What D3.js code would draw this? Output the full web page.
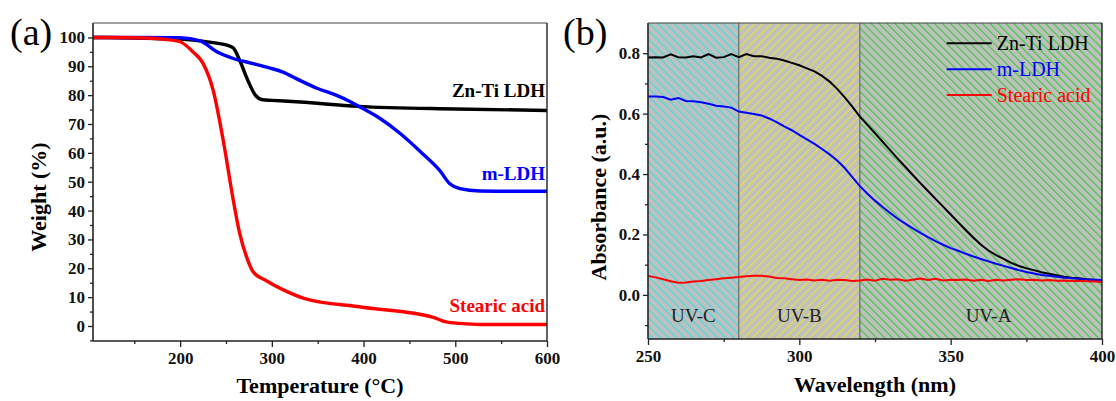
<!DOCTYPE html>
<html>
<head>
<meta charset="utf-8">
<script src="https://cdn.jsdelivr.net/npm/d3@7"></script>
<style>
  body { margin: 0; background: #fff; }
  svg text { font-family: "Liberation Serif", "Times New Roman", serif; }
</style>
</head>
<body>
<script>
// ---- panel (a): TGA data ----
var znTiTemp = [105, 150, 200, 222, 240, 251, 258, 265, 274, 282, 290, 300, 331, 394, 500, 600];
var znTiWeight = [100, 99.8, 99.4, 98.8, 98.0, 97.3, 96.3, 92.0, 85.0, 80.0, 78.4, 78.2, 77.6, 76.1, 75.2, 74.7];

var mLdhTemp = [105, 150, 200, 222, 240, 258, 276, 298, 312, 330, 350, 370, 385, 396, 418, 440, 462, 483, 494, 505, 527, 560, 600];
var mLdhWeight = [100, 100, 99.9, 98.8, 95.0, 92.7, 91.2, 89.4, 88.0, 85.2, 82.3, 80.0, 77.8, 75.9, 71.9, 66.7, 60.4, 53.9, 49.3, 47.6, 46.8, 46.7, 46.7];

var saTemp = [105, 150, 185, 200, 214, 225, 236, 247, 258, 265, 272.6, 280, 294, 312, 335, 399, 476, 490, 505, 527, 560, 600];
var saWeight = [100, 99.9, 99.3, 98.5, 95.0, 91.0, 81.7, 64.3, 43.5, 32.0, 23.8, 18.6, 15.7, 12.6, 9.6, 6.5, 3.0, 1.4, 0.9, 0.5, 0.5, 0.5];

var tgaXTicks = [200, 300, 400, 500, 600];
var tgaYTicks = [0, 10, 20, 30, 40, 50, 60, 70, 80, 90, 100];
var tgaNames = ["Zn-Ti LDH", "m-LDH", "Stearic acid"];

// ---- panel (b): UV-vis data ----
var wave = [250, 252.5, 255, 257.5, 260, 262.5, 265, 267.5, 270, 272.5, 275, 277.5, 280, 282.5, 285, 287.5, 290, 292.5, 295, 297.5,
  300, 302.5, 305, 307.5, 310, 312.5, 315, 317.5, 320, 322.5, 325, 327.5, 330, 332.5, 335, 337.5, 340, 342.5, 345, 347.5,
  350, 352.5, 355, 357.5, 360, 362.5, 365, 367.5, 370, 372.5, 375, 377.5, 380, 382.5, 385, 387.5, 390, 392.5, 395, 397.5, 400];

var absZnTi = [0.786, 0.787, 0.786, 0.796, 0.787, 0.786, 0.790, 0.786, 0.797, 0.785, 0.787, 0.797, 0.787, 0.797, 0.790, 0.790, 0.785, 0.782, 0.776, 0.768,
  0.760, 0.750, 0.740, 0.725, 0.706, 0.682, 0.654, 0.623, 0.590, 0.563, 0.535, 0.507, 0.479, 0.451, 0.424, 0.397, 0.370, 0.344, 0.318, 0.292,
  0.266, 0.240, 0.214, 0.189, 0.166, 0.147, 0.132, 0.119, 0.106, 0.096, 0.088, 0.082, 0.075, 0.070, 0.065, 0.060, 0.057, 0.055, 0.052, 0.050, 0.049];

var absMLdh = [0.657, 0.657, 0.655, 0.646, 0.652, 0.642, 0.641, 0.638, 0.633, 0.626, 0.624, 0.620, 0.607, 0.603, 0.599, 0.594, 0.584, 0.572, 0.558, 0.545,
  0.530, 0.515, 0.500, 0.483, 0.465, 0.445, 0.420, 0.390, 0.360, 0.335, 0.312, 0.291, 0.271, 0.252, 0.236, 0.220, 0.205, 0.191, 0.178, 0.166,
  0.155, 0.146, 0.136, 0.127, 0.119, 0.111, 0.103, 0.096, 0.089, 0.082, 0.076, 0.071, 0.066, 0.063, 0.060, 0.057, 0.055, 0.053, 0.051, 0.050, 0.049];

var absSA = [0.063, 0.058, 0.052, 0.045, 0.040, 0.041, 0.044, 0.046, 0.049, 0.052, 0.055, 0.057, 0.059, 0.062, 0.063, 0.063, 0.061, 0.056, 0.055, 0.052,
  0.049, 0.051, 0.048, 0.050, 0.047, 0.050, 0.049, 0.046, 0.048, 0.051, 0.047, 0.053, 0.050, 0.052, 0.047, 0.050, 0.054, 0.049, 0.053, 0.048,
  0.050, 0.049, 0.051, 0.047, 0.050, 0.046, 0.050, 0.048, 0.050, 0.052, 0.049, 0.050, 0.048, 0.049, 0.047, 0.048, 0.046, 0.047, 0.045, 0.044, 0.043];

var uvXTicks = [250, 300, 350, 400];
var uvYTicks = [0, 0.2, 0.4, 0.6, 0.8];
var bandNames = ["UV-C", "UV-B", "UV-A"];
var bandStart = [250, 280, 320];
var bandEnd = [280, 320, 400];
var bandLabelAt = [265, 300, 362.5];

var colors = ["#000000", "#0000ff", "#ff0000"];

var svg = d3.select("body").append("svg")
  .attr("width", 1116)
  .attr("height", 401);

var defs = svg.append("defs");

// hatch patterns for the UV bands
var hatch = [
  { id: "hC", color: "#3fdede", rot: -45, w: 5.8 },
  { id: "hB", color: "#e8e23c", rot: 45, w: 5.8 },
  { id: "hA", color: "#3ccc3c", rot: -45, w: 5.6 }
];
hatch.forEach(function (h) {
  var p = defs.append("pattern")
    .attr("id", h.id)
    .attr("patternUnits", "userSpaceOnUse")
    .attr("width", h.w)
    .attr("height", 10)
    .attr("patternTransform", "rotate(" + h.rot + ")");
  p.append("rect").attr("width", h.w).attr("height", 10).attr("fill", "#c0c0c0");
  p.append("line").attr("x1", 0.6).attr("x2", 0.6).attr("y1", 0).attr("y2", 10)
    .attr("stroke", h.color).attr("stroke-width", 1.2);
});

function drawAxes(g, x, y, w, h, xMajor, xMinor, yMajor, yMinor, yFmt) {
  g.append("g")
    .attr("transform", "translate(0," + h + ")")
    .call(d3.axisBottom(x).tickValues(xMinor).tickSize(3).tickFormat(""));
  g.append("g")
    .call(d3.axisLeft(y).tickValues(yMinor).tickSize(3).tickFormat(""));
  g.append("g")
    .attr("transform", "translate(0," + h + ")")
    .call(d3.axisBottom(x).tickValues(xMajor).tickSize(6).tickSizeOuter(0).tickPadding(5));
  g.append("g")
    .call(d3.axisLeft(y).tickValues(yMajor).tickSize(5).tickSizeOuter(0).tickPadding(3).tickFormat(yFmt));
  g.selectAll(".domain").remove();
  g.selectAll(".tick line").attr("stroke", "#222").attr("stroke-width", 1.3);
  g.selectAll(".tick text")
    .attr("fill", "#111")
    .style("font-size", "17px")
    .style("font-weight", "bold");
  // frame: thick left and bottom, thin top and right
  g.append("line").attr("x1", 0).attr("x2", 0).attr("y1", 0).attr("y2", h).attr("stroke", "#222").attr("stroke-width", 1.6);
  g.append("line").attr("x1", 0).attr("x2", w).attr("y1", h).attr("y2", h).attr("stroke", "#222").attr("stroke-width", 1.6);
  g.append("line").attr("x1", 0).attr("x2", w).attr("y1", 0).attr("y2", 0).attr("stroke", "#444").attr("stroke-width", 1);
  g.append("line").attr("x1", w).attr("x2", w).attr("y1", 0).attr("y2", h).attr("stroke", "#222").attr("stroke-width", 1.4);
}

// ================= panel (a) =================
var aL = 93, aT = 23, aW = 454, aH = 318;
var ga = svg.append("g").attr("transform", "translate(" + aL + "," + aT + ")");

var xa = d3.scaleLinear().domain([105, 600]).range([0, aW]);
var ya = d3.scaleLinear().domain([-5.2, 105]).range([aH, 0]);

var tgaSeries = [
  { t: znTiTemp, w: znTiWeight },
  { t: mLdhTemp, w: mLdhWeight },
  { t: saTemp, w: saWeight }
];

var lineA = d3.line()
  .x(function (d) { return xa(d[0]); })
  .y(function (d) { return ya(d[1]); })
  .curve(d3.curveMonotoneX);

ga.selectAll("path.tga")
  .data(tgaSeries)
  .enter().append("path")
  .attr("class", "tga")
  .attr("fill", "none")
  .attr("stroke", function (d, i) { return colors[i]; })
  .attr("stroke-width", 3.4)
  .attr("d", function (s) { return lineA(s.t.map(function (t, k) { return [t, s.w[k]]; })); });

drawAxes(ga, xa, ya, aW, aH, tgaXTicks, [150, 250, 350, 450, 550],
  tgaYTicks, [-5, 5, 15, 25, 35, 45, 55, 65, 75, 85, 95], d3.format("d"));

// curve labels
var labY = [96.7, 180, 311.7];
ga.selectAll("text.lab")
  .data(tgaNames)
  .enter().append("text")
  .attr("class", "lab")
  .attr("x", aW - 2)
  .attr("y", function (d, i) { return labY[i] - aT; })
  .attr("text-anchor", "end")
  .attr("fill", function (d, i) { return colors[i]; })
  .style("font-size", "19px")
  .style("font-weight", "bold")
  .text(function (d) { return d; });

svg.append("text").attr("x", 10).attr("y", 45).style("font-size", "38px").text("(a)");
svg.append("text")
  .attr("transform", "translate(46,197) rotate(-90)")
  .attr("text-anchor", "middle")
  .style("font-size", "22px").style("font-weight", "bold")
  .text("Weight (%)");
svg.append("text")
  .attr("x", 320).attr("y", 393)
  .attr("text-anchor", "middle")
  .style("font-size", "22px").style("font-weight", "bold")
  .text("Temperature (\u00b0C)");

// ================= panel (b) =================
var bL = 648, bT = 23, bW = 454, bH = 316;
var gb = svg.append("g").attr("transform", "translate(" + bL + "," + bT + ")");

var xb = d3.scaleLinear().domain([250, 400]).range([0, bW]);
var yb = d3.scaleLinear().domain([-0.146, 0.9]).range([bH, 0]);

// hatched UV bands
gb.selectAll("rect.band")
  .data(bandNames)
  .enter().append("rect")
  .attr("class", "band")
  .attr("x", function (d, i) { return xb(bandStart[i]); })
  .attr("y", 0)
  .attr("width", function (d, i) { return xb(bandEnd[i]) - xb(bandStart[i]); })
  .attr("height", bH)
  .attr("fill", function (d, i) { return "url(#" + hatch[i].id + ")"; });

// band dividers
gb.selectAll("line.div")
  .data(bandStart.slice(1))
  .enter().append("line")
  .attr("class", "div")
  .attr("x1", function (d) { return xb(d); })
  .attr("x2", function (d) { return xb(d); })
  .attr("y1", 0).attr("y2", bH)
  .attr("stroke", "#555").attr("stroke-width", 1);

gb.selectAll("text.band")
  .data(bandNames)
  .enter().append("text")
  .attr("class", "band")
  .attr("x", function (d, i) { return xb(bandLabelAt[i]); })
  .attr("y", 322 - bT)
  .attr("text-anchor", "middle")
  .attr("fill", "#222")
  .style("font-size", "19px")
  .text(function (d) { return d; });

var uvSeries = [absZnTi, absMLdh, absSA];
var lineB = d3.line()
  .x(function (d, i) { return xb(wave[i]); })
  .y(function (d) { return yb(d); });

gb.selectAll("path.uv")
  .data(uvSeries)
  .enter().append("path")
  .attr("class", "uv")
  .attr("fill", "none")
  .attr("stroke", function (d, i) { return colors[i]; })
  .attr("stroke-width", 2)
  .attr("d", lineB);

drawAxes(gb, xb, yb, bW, bH, uvXTicks, [275, 325, 375],
  uvYTicks, [-0.1, 0.1, 0.3, 0.5, 0.7], d3.format(".1f"));

// legend
var leg = gb.selectAll("g.leg")
  .data(tgaNames)
  .enter().append("g")
  .attr("class", "leg")
  .attr("transform", function (d, i) { return "translate(" + (946.7 - bL) + "," + (43.3 + i * 25.9 - bT) + ")"; });
leg.append("line")
  .attr("x1", 0).attr("x2", 45)
  .attr("stroke", function (d, i) { return colors[i]; })
  .attr("stroke-width", 2);
leg.append("text")
  .attr("x", 50).attr("y", 6.5)
  .attr("fill", function (d, i) { return colors[i]; })
  .style("font-size", "20px")
  .text(function (d) { return d; });

svg.append("text").attr("x", 563).attr("y", 45).style("font-size", "38px").text("(b)");
svg.append("text")
  .attr("transform", "translate(606,197) rotate(-90)")
  .attr("text-anchor", "middle")
  .style("font-size", "22px").style("font-weight", "bold")
  .text("Absorbance (a.u.)");
svg.append("text")
  .attr("x", 875).attr("y", 392)
  .attr("text-anchor", "middle")
  .style("font-size", "22px").style("font-weight", "bold")
  .text("Wavelength (nm)");
</script>
</body>
</html>
